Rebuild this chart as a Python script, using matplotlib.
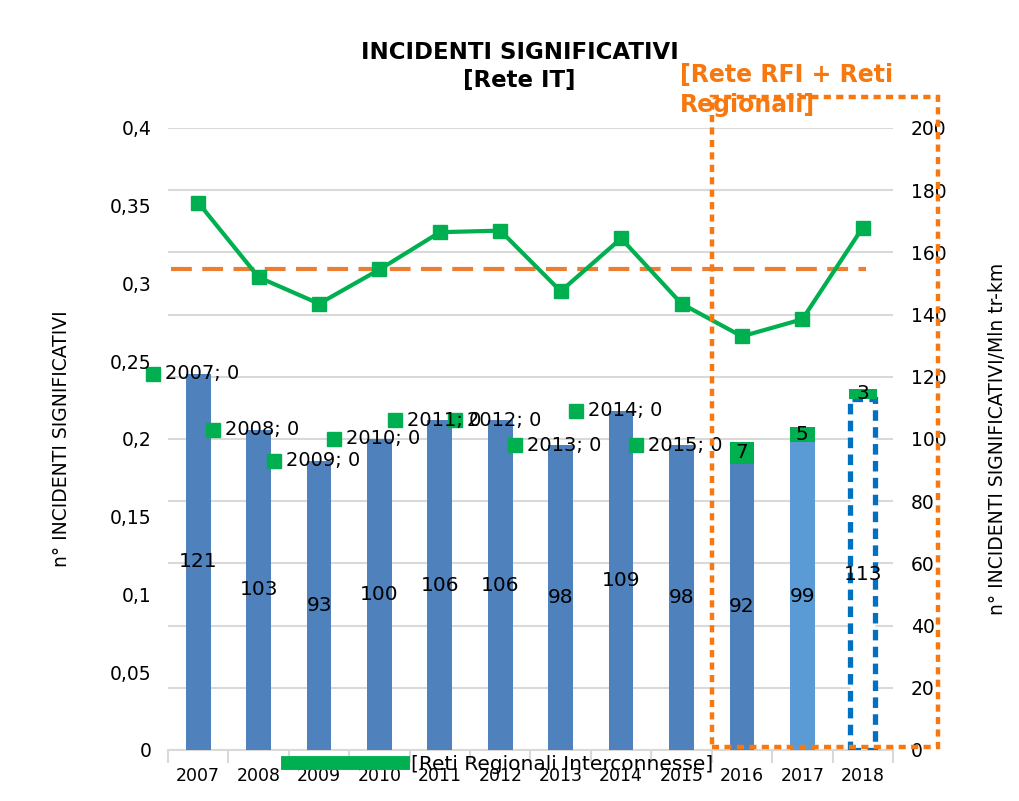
import matplotlib
matplotlib.use("Agg")
import matplotlib.pyplot as plt
from matplotlib.lines import Line2D
from matplotlib.patches import Rectangle
import numpy as np

years = ["2007", "2008", "2009", "2010", "2011", "2012",
         "2013", "2014", "2015", "2016", "2017", "2018"]
incidents = [121, 103, 93, 100, 106, 106, 98, 109, 98, 92, 99, 113]
regional = [0, 0, 0, 0, 0, 0, 0, 0, 0, 7, 5, 3]
rate = [0.352, 0.304, 0.287, 0.309, 0.333, 0.334,
        0.295, 0.329, 0.287, 0.266, 0.277, 0.336]
rate_avg = 0.309
point_labels = ["2007; 0", "2008; 0", "2009; 0", "2010; 0", "2011; 0", "2012; 0",
                "2013; 0", "2014; 0", "2015; 0"]

BLUE = "#4F81BD"
LIGHT = "#5B9BD5"
OUTLINE = "#0070C0"
GREEN = "#00B050"
ORANGE = "#ED7D31"
ORANGE2 = "#F7780F"

fig = plt.figure(figsize=(10.19, 8.01), dpi=100)
ax2 = fig.add_axes([0.1649, 0.0637, 0.7114, 0.7765])  # bars, right scale
ax = ax2.twinx()                                          # rate line, left scale
ax.yaxis.tick_left()
ax.yaxis.set_label_position("left")
ax2.yaxis.tick_right()
ax2.yaxis.set_label_position("right")
ax.set_zorder(ax2.get_zorder() + 1)
ax.patch.set_visible(False)

x = np.arange(len(years))
bw = 0.41
cols = [BLUE] * 10 + [LIGHT, "none"]
for i in range(len(years)):
    if i == 11:
        ax2.bar(x[i], incidents[i], bw, facecolor="white", edgecolor=OUTLINE,
                linewidth=3.8, linestyle=(0, (2, 1.2)), zorder=3)
    else:
        ax2.bar(x[i], incidents[i], bw, color=cols[i], zorder=3)
    ax2.text(x[i], incidents[i] / 2, str(incidents[i]), ha="center", va="center",
             fontsize=14.5, zorder=6)
    if regional[i]:
        ax2.bar(x[i], regional[i], bw if i < 11 else bw + 0.05, bottom=incidents[i],
                color=GREEN, zorder=4)
        ax2.text(x[i], incidents[i] + regional[i] / 2, str(regional[i]),
                 ha="center", va="center", fontsize=14.5, zorder=6)

# green markers with "year; 0" labels
for i, lab in enumerate(point_labels):
    ax2.plot(x[i] - 0.75, incidents[i], "s", color=GREEN, ms=10, zorder=5,
             clip_on=False)
    ax2.text(x[i] - 0.75 + 0.2, incidents[i], lab, ha="left", va="center",
             fontsize=14, zorder=6)

ax2.set_ylim(0, 200)
ax2.set_yticks(np.arange(0, 201, 20))
ax2.set_xlim(-0.5, 11.5)
ax2.grid(axis="y", color="#D9D9D9", linewidth=1.5, zorder=0)
ax2.set_axisbelow(True)
ax2.tick_params(axis="y", length=0, labelsize=13.5, pad=13)
ax2.set_ylabel("n° INCIDENTI SIGNIFICATIVI/Mln tr-km", fontsize=13.5, labelpad=30)

ax2.set_xticks(x)
ax2.set_xticklabels(years)
ax2.set_xticks(np.arange(-0.5, 12, 1), minor=True)
ax2.tick_params(axis="x", which="major", length=0, labelsize=12.5, pad=12)
ax2.tick_params(axis="x", which="minor", length=9, width=1.5, color="#D9D9D9")
for s in ["top", "left", "right"]:
    ax2.spines[s].set_visible(False)
ax2.spines["bottom"].set_color("#D9D9D9")
ax2.spines["bottom"].set_linewidth(1.5)

# rate line and average
ax.plot(x, rate, "-s", color=GREEN, lw=3, ms=10, zorder=5)
ax.plot([-0.45, 11.05], [rate_avg, rate_avg], color=ORANGE, lw=3,
        linestyle=(0, (5, 2.5)), zorder=4)
ax.set_ylim(0, 0.4)
ax.set_yticks(np.arange(0, 0.41, 0.05))
ax.set_yticklabels(["0", "0,05", "0,1", "0,15", "0,2", "0,25", "0,3", "0,35", "0,4"])
ax.tick_params(axis="y", length=0, labelsize=13.5, pad=12)
ax.set_ylabel("n° INCIDENTI SIGNIFICATIVI", fontsize=13.5, labelpad=28)
for s in ax.spines.values():
    s.set_visible(False)

# titles
fig.text(0.51, 0.935, "INCIDENTI SIGNIFICATIVI", ha="center", va="center",
         fontsize=16.5, fontweight="bold")
fig.text(0.51, 0.9, "[Rete IT]", ha="center", va="center",
         fontsize=16.5, fontweight="bold")
fig.text(0.667, 0.888, "[Rete RFI + Reti\nRegionali]", ha="left", va="center",
         fontsize=17, fontweight="bold", color=ORANGE2, linespacing=1.3)

# orange dotted frame
fig.patches.append(Rectangle((0.6987, 0.0674), 0.2218, 0.8115, transform=fig.transFigure,
                             fill=False, edgecolor=ORANGE2, linewidth=3.2,
                             linestyle=(0, (1.6, 1.2)), zorder=10))

# legend
handle = Line2D([], [], color=GREEN, lw=10)
fig.legend([handle], ["[Reti Regionali Interconnesse]"], loc="center left",
           bbox_to_anchor=(0.265, 0.046), frameon=False, fontsize=14.5,
           handlelength=5.7, handletextpad=0.4)

fig.savefig("out.png", dpi=100)
